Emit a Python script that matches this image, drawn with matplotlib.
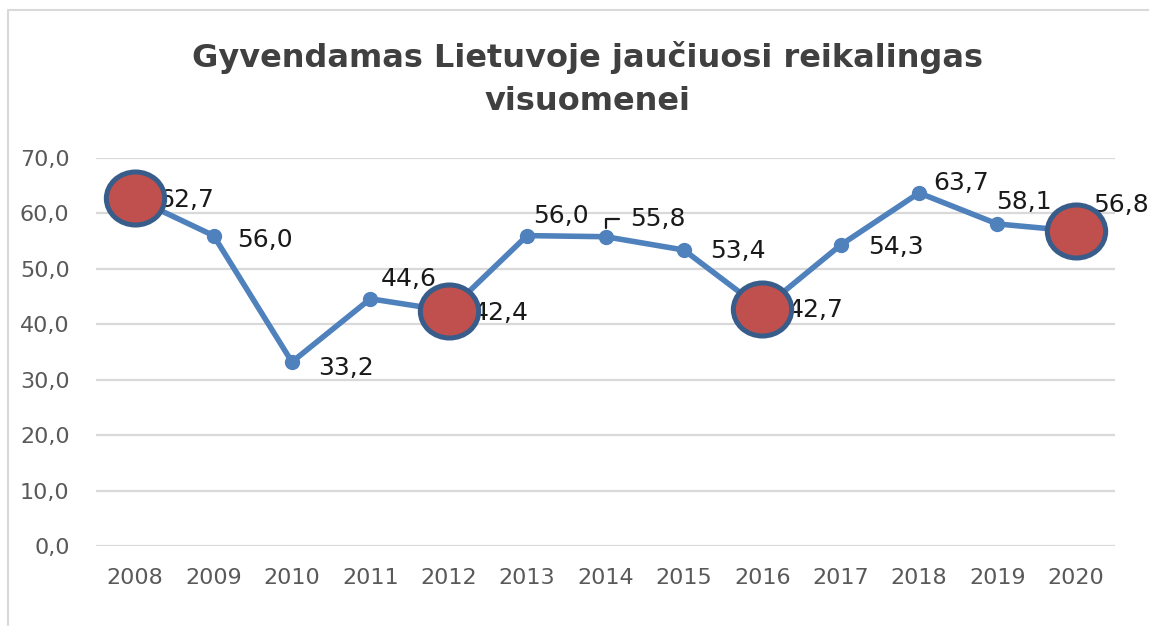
import matplotlib.pyplot as plt
from matplotlib.lines import Line2D
from matplotlib.path import Path
from matplotlib.transforms import Affine2D
import numpy as np

years = ["2008", "2009", "2010", "2011", "2012", "2013", "2014",
         "2015", "2016", "2017", "2018", "2019", "2020"]
values = [62.7, 56.0, 33.2, 44.6, 42.4, 56.0, 55.8,
          53.4, 42.7, 54.3, 63.7, 58.1, 56.8]
highlight = ["2008", "2012", "2016", "2020"]
title = "Gyvendamas Lietuvoje jaučiuosi reikalingas\nvisuomenei"

# label offsets in pixels (dx to left edge, dy down)
label_off = [(23, 2), (24, 4), (26, 6), (10, -20), (24, 2), (6, -20), (25, -18),
             (26, 1), (25, 1), (27, 2), (14, -10), (-1, -22), (17, -26)]

W, H = 1149, 626
fig = plt.figure(figsize=(W / 100, H / 100), dpi=100)
# chart frame, only top and left edges are in the picture
fig.lines.append(Line2D([8 / W, 8 / W, 1.0], [0.0, 1 - 10 / H, 1 - 10 / H],
                        transform=fig.transFigure, color="#d9d9d9", lw=1.5))

ax = fig.add_axes([96 / W, 1 - 546 / H, (1115 - 96) / W, (546 - 158) / H])
x = np.arange(len(years))

ax.plot(x, values, color="#4f81bd", linewidth=4, marker="o",
        markersize=10, zorder=3)

# slightly wide ellipse for the highlighted years
ell = Path.unit_circle().transformed(Affine2D().scale(1.1, 1.0))
hx = [years.index(y) for y in highlight]
hv = [values[i] for i in hx]
ax.plot(hx, hv, linestyle="none", marker=ell, markersize=42,
        markerfacecolor="#c0504d", markeredgecolor="#385d8a",
        markeredgewidth=3.6, zorder=4)

for i, v in enumerate(values):
    dx, dy = label_off[i]
    lbl = f"{v:.1f}".replace(".", ",")
    arrow = None
    if years[i] == "2014":
        arrow = dict(arrowstyle="-", color="#1a1a1a", lw=1.6,
                     connectionstyle="angle,angleA=0,angleB=90,rad=0",
                     shrinkA=6, shrinkB=6)
    ax.annotate(lbl, xy=(i, v), xytext=(dx * 0.72, -dy * 0.72),
                textcoords="offset points", ha="left", va="center",
                fontsize=18, color="#1a1a1a", zorder=2, arrowprops=arrow)

ax.set_xlim(-0.5, len(years) - 0.5)
ax.set_ylim(0, 70)
ax.set_yticks(np.arange(0, 71, 10))
ax.set_yticklabels([f"{t:.1f}".replace(".", ",") for t in np.arange(0, 71, 10)])
ax.set_xticks(x)
ax.set_xticklabels(years)
ax.tick_params(axis="y", length=0, pad=19, labelsize=16, labelcolor="#595959")
ax.tick_params(axis="x", length=0, pad=16, labelsize=16, labelcolor="#595959")
ax.grid(axis="y", color="#d9d9d9", linewidth=1.6)
ax.set_axisbelow(True)
for s in ax.spines.values():
    s.set_visible(False)

fig.text(588 / W, 1 - 79 / H, title, ha="center", va="center",
         fontsize=23, fontweight="bold", color="#404040", linespacing=1.5)

fig.savefig("out.png", dpi=100)
